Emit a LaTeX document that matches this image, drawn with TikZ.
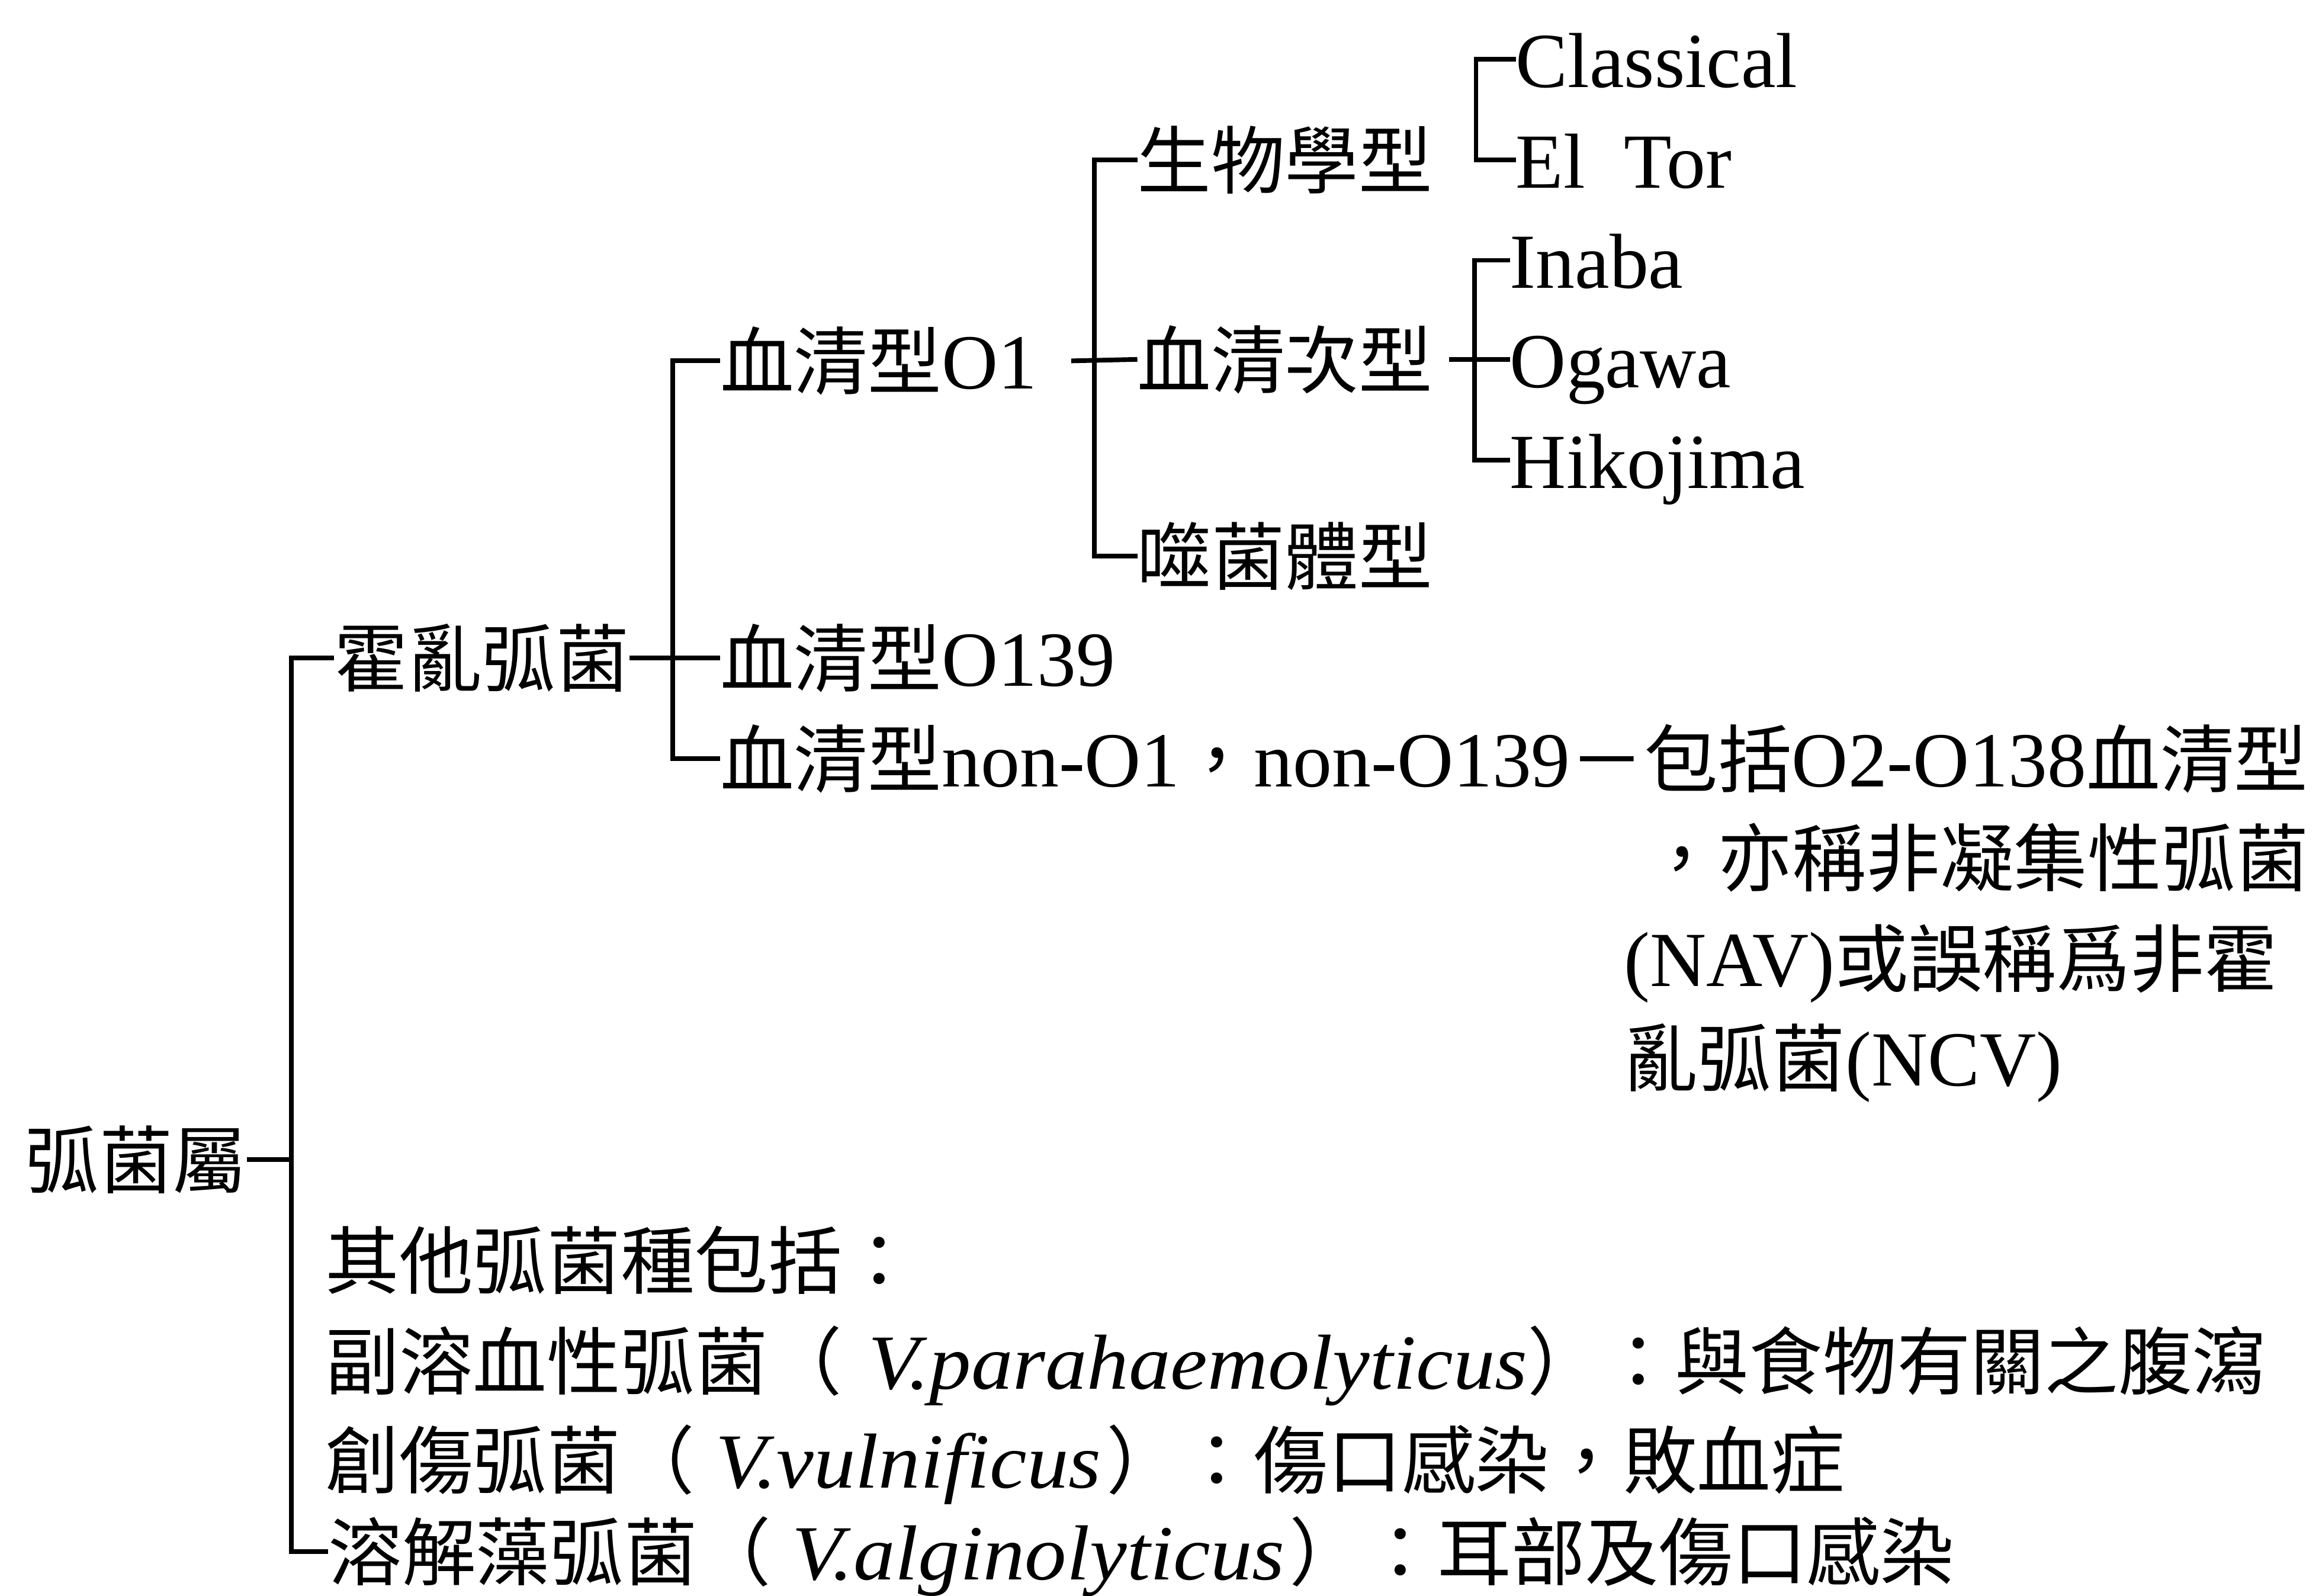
\documentclass[tikz,border=0pt]{standalone}
\usepackage{fontspec}
\setmainfont{Liberation Serif}
\newfontfamily\cjkfont{Noto Sans CJK TC}
\newfontfamily\latwide{Liberation Serif}[FakeStretch=1.07]
\newcommand\ZH[1]{{\fontsize{14.2pt}{17pt}\cjkfont #1}}
\newcommand\SP[1]{{\latwide\itshape #1}}
\begin{document}
\begin{tikzpicture}[x=0.01cm,y=-0.01cm,
  lbl/.style={inner sep=0pt, outer sep=0pt, anchor=west, text height=12.5pt, text depth=1.7pt, font=\fontsize{15pt}{18pt}\selectfont},
  conn/.style={line width=0.9pt, black}]
\useasboundingbox (0,0) rectangle (1568,1079);
% nodes
\node[lbl] (root) at (17,784) {\ZH{弧菌屬}};
\node[lbl] (chol) at (226,445) {\ZH{霍亂弧菌}};
\node[lbl] (o1) at (487,244) {\ZH{血清型}O1};
\node[lbl] (o139) at (487,445) {\ZH{血清型}O139};
\node[lbl] (non) at (487,513) {\ZH{血清型}non-O1\ZH{，}non-O139\ZH{－包括}O2-O138\ZH{血清型}};
\node[lbl] (non2) at (1112,580) {\ZH{，亦稱非凝集性弧菌}};
\node[lbl] (non3) at (1098,648) {(NAV)\ZH{或誤稱爲非霍}};
\node[lbl] (non4) at (1098,715) {\ZH{亂弧菌}(NCV)};
\node[lbl] (bio) at (769,108) {\ZH{生物學型}};
\node[lbl] (sero) at (769,243) {\ZH{血清次型}};
\node[lbl] (phage) at (769,376) {\ZH{噬菌體型}};
\node[lbl] (classical) at (1025,40) {Classical};
\node[lbl] (eltor) at (1025,108) {El\enspace Tor};
\node[lbl] (inaba) at (1021,176) {Inaba};
\node[lbl] (ogawa) at (1021,243) {Ogawa};
\node[lbl] (hiko) at (1021,311) {Hikojima};
\node[lbl] (oth0) at (220,852) {\ZH{其他弧菌種包括：}};
\node[lbl] (oth1) at (220,920) {\ZH{副溶血性弧菌（}\hspace{5pt}\SP{V.parahaemolyticus}\ZH{）：與食物有關之腹瀉}};
\node[lbl] (oth2) at (220,987) {\ZH{創傷弧菌（}\hspace{4pt}\SP{V.vulnificus}\hspace{1pt}\ZH{）：傷口感染，敗血症}};
\node[lbl] (oth3) at (222,1049) {\ZH{溶解藻弧菌（}\hspace{4pt}\SP{V.alginolyticus}\hspace{1pt}\ZH{）：耳部及傷口感染}};
% junctions
\coordinate (j1) at (197,784);
\coordinate (j2) at (455,445);
\coordinate (j3) at (740,244);
\coordinate (j4) at (998,74);
\coordinate (j5) at (997,243);
% connectors
\draw[conn] (root.east) -- (j1);
\draw[conn] (chol.west) -| (j1) |- (oth3.west);
\draw[conn] (chol.east) -- (o139.west);
\draw[conn] (o1.west) -| (j2) |- (non.west);
\draw[conn] ([xshift=0.23cm]o1.east) -- (sero.west);
\draw[conn] (bio.west) -| (j3) |- (phage.west);
\draw[conn] (classical.west) -| (j4) |- (eltor.west);
\draw[conn] ([xshift=0.11cm]sero.east) -- (ogawa.west);
\draw[conn] (inaba.west) -| (j5) |- (hiko.west);
\end{tikzpicture}
\end{document}
